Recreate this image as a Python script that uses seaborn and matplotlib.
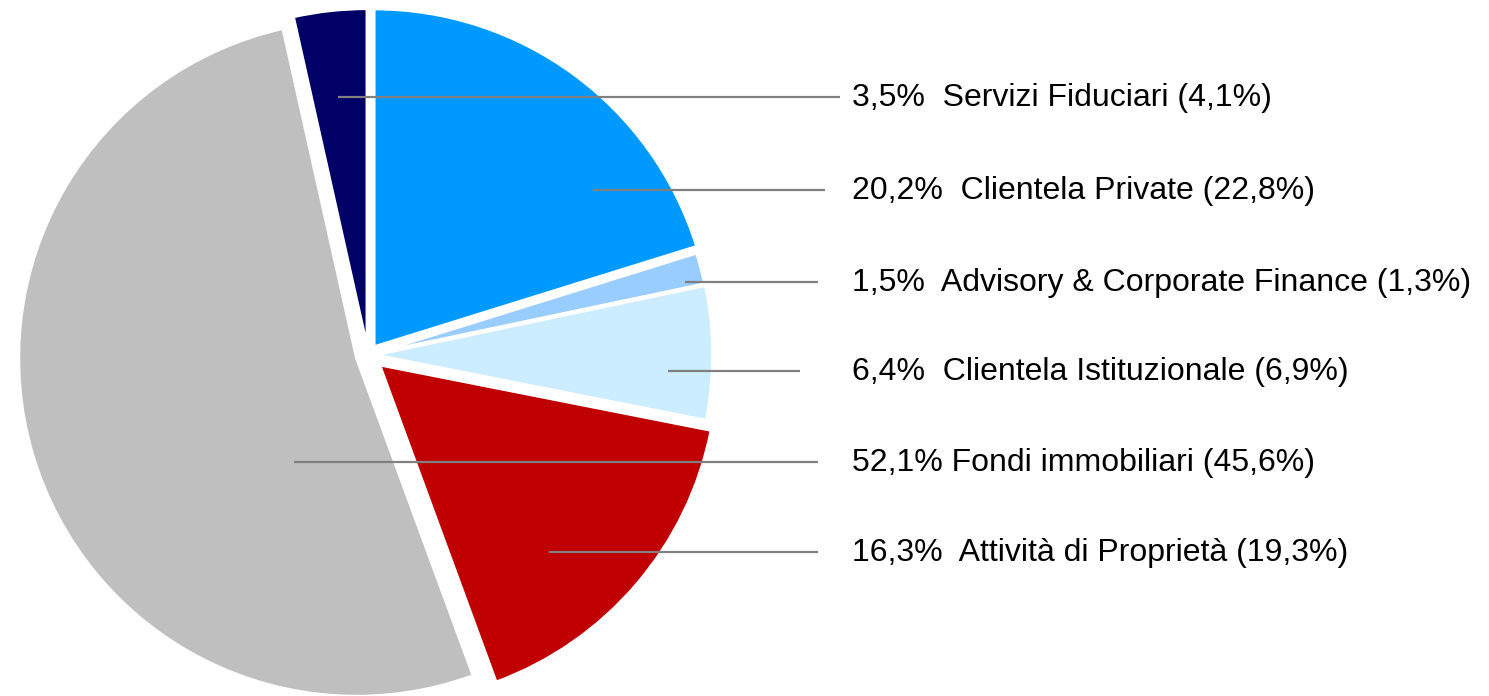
import numpy as np
import matplotlib
matplotlib.use('Agg')
import matplotlib.pyplot as plt
import seaborn as sns

# data, clockwise from 12 o'clock
segments = ['Clientela Private', 'Advisory & Corporate Finance', 'Clientela Istituzionale',
            'Attività di Proprietà', 'Fondi immobiliari', 'Servizi Fiduciari']
share = [20.2, 1.5, 6.4, 16.3, 52.1, 3.5]
share_prev = [22.8, 1.3, 6.9, 19.3, 45.6, 4.1]
colors = ['#0099FF', '#99CCFF', '#CCECFF', '#C00000', '#BFBFBF', '#000066']
explode = [0.03, 0.018, 0.02, 0.045, 0.035, 0.025]  # fraction of radius

# label order on the right (top to bottom)
label_order = ['Servizi Fiduciari', 'Clientela Private', 'Advisory & Corporate Finance',
               'Clientela Istituzionale', 'Fondi immobiliari', 'Attività di Proprietà']

sns.set_style('white')
plt.rcParams['font.family'] = ['Liberation Sans', 'DejaVu Sans']

W, H = 1489, 696
fig = plt.figure(figsize=(W / 100, H / 100), dpi=100)
ax = fig.add_axes([0, 0, 1, 1])

R = 338
cx, cy = 368, H - 355
ax.pie(share, colors=colors, explode=[e * R for e in explode], startangle=90,
       counterclock=False, radius=R, center=(cx, cy), frame=True,
       wedgeprops=dict(edgecolor='white', linewidth=2.2))

# leader lines: (start x, end x, row y) in pixels from top
line_start = [338, 593, 685, 668, 294, 549]
line_end = [840, 825, 818, 800, 818, 818]
row_y = [97, 190, 282, 371, 462, 552]
text_x = 852

for name, x0, x1, y in zip(label_order, line_start, line_end, row_y):
    i = segments.index(name)
    yy = H - y
    ax.plot([x0, x1], [yy, yy], color='#808080', lw=1.6, solid_capstyle='butt')
    gap = ' ' if name == 'Fondi immobiliari' else '  '
    txt = f"{share[i]:.1f}%{gap}{name} ({share_prev[i]:.1f}%)".replace('.', ',')
    ax.text(text_x, yy - 1, txt, fontsize=23, color='black', va='center', ha='left')

ax.set_xlim(0, W)
ax.set_ylim(0, H)
ax.set_aspect('auto')
ax.axis('off')

fig.savefig('out.png', dpi=100)
